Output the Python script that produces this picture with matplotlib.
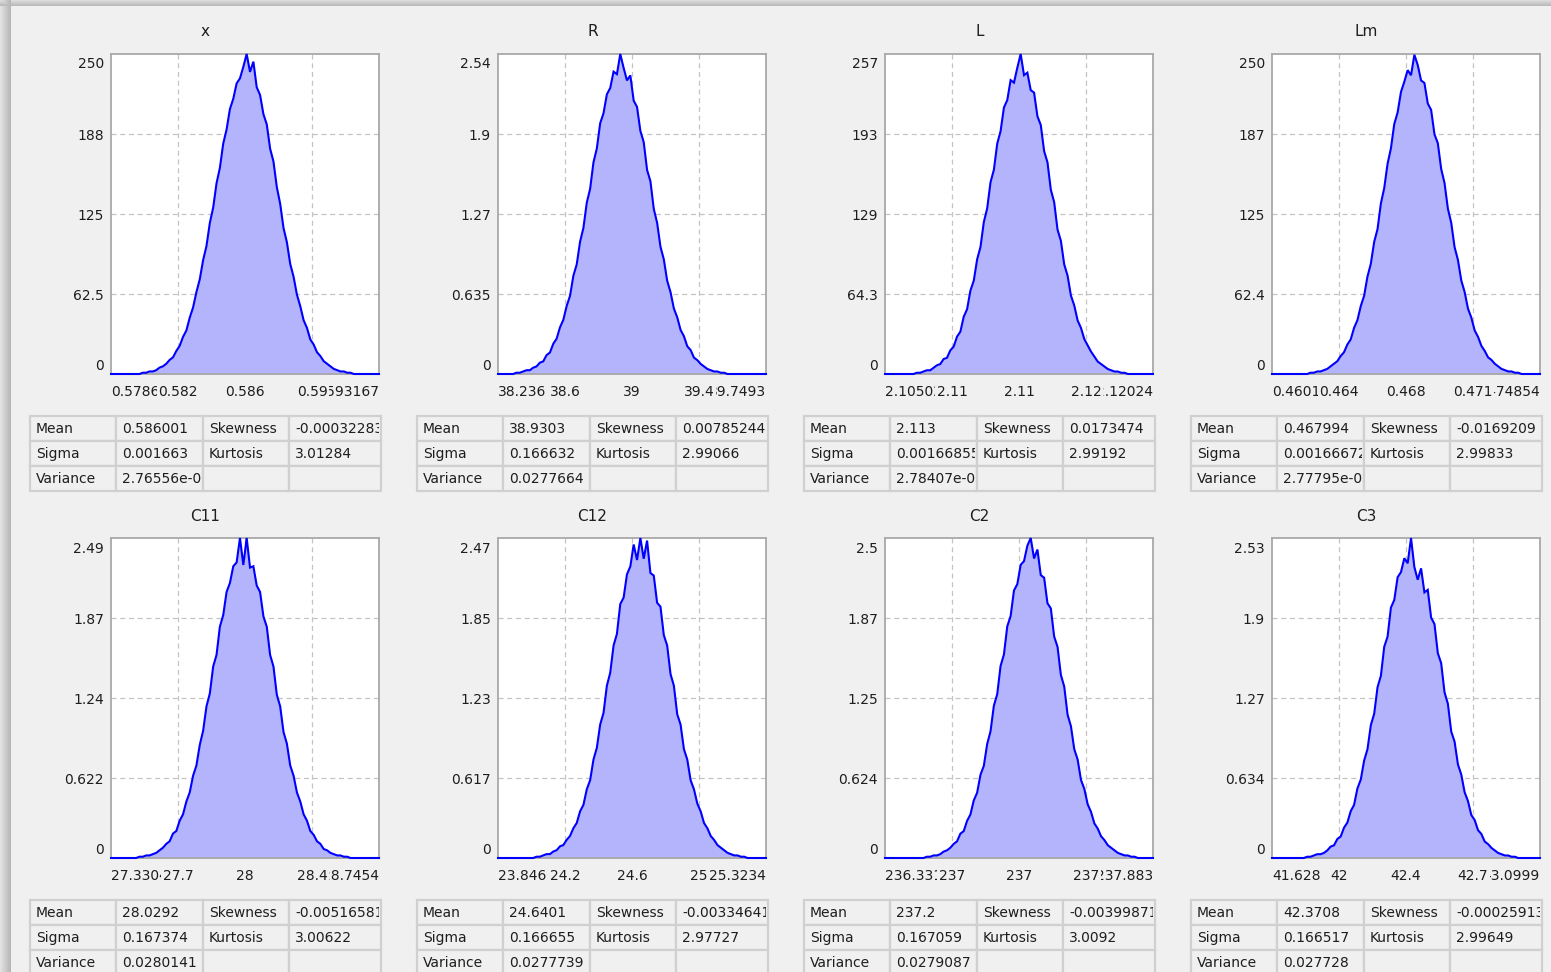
import numpy as np
import matplotlib
matplotlib.use('Agg')
import matplotlib.pyplot as plt
from matplotlib.patches import Rectangle
from matplotlib.transforms import Bbox

plt.rcParams['font.family'] = ['DejaVu Sans']

# panel names and axis ranges
names = ['x', 'R', 'L', 'Lm', 'C11', 'C12', 'C2', 'C3']
x_lo = [0.57863, 38.236, 2.10515, 0.46015, 27.3304, 23.846, 236.331, 41.628]
x_hi = [0.593167, 39.7493, 2.12024, 0.474854, 28.7454, 25.3234, 237.883, 43.0999]
y_top = [250, 2.54, 257, 249.6, 2.49, 2.47, 2.5, 2.53]

# tick labels as shown
x_min_lab = ['0.57863', '38.236', '2.10502', '0.46015', '27.3304', '23.846', '236.331', '41.628']
x_mid_lab = [['0.582', '0.586', '0.59'], ['38.6', '39', '39.4'], ['2.11', '2.11', '2.12'],
             ['0.464', '0.468', '0.471'], ['27.7', '28', '28.4'], ['24.2', '24.6', '25'],
             ['237', '237', '237'], ['42', '42.4', '42.7']]
x_max_lab = ['0.593167', '39.7493', '2.12024', '0.474854', '28.7454', '25.3234', '237.883', '43.0999']
y_labs = [['0', '62.5', '125', '188', '250'], ['0', '0.635', '1.27', '1.9', '2.54'],
          ['0', '64.3', '129', '193', '257'], ['0', '62.4', '125', '187', '250'],
          ['0', '0.622', '1.24', '1.87', '2.49'], ['0', '0.617', '1.23', '1.85', '2.47'],
          ['0', '0.624', '1.25', '1.87', '2.5'], ['0', '0.634', '1.27', '1.9', '2.53']]

# histogram heights (80 bins over each axis range), first non-empty bin index
n_bins = 80
first_bin = [9, 5, 9, 11, 8, 11, 12, 10]
h_x = [1, 1, 2, 2, 3, 5, 6, 8, 11, 13, 18, 22, 29, 34, 44, 52, 64, 74, 89, 100, 118, 130, 149, 161,
       180, 191, 207, 215, 227, 231, 240, 250, 236, 244, 224, 218, 203, 195, 176, 166, 146, 133,
       114, 103, 86, 76, 62, 53, 42, 36, 27, 23, 17, 14, 10, 8, 6, 4, 3, 2, 2, 1, 1]
h_R = [0.01, 0.01, 0.02, 0.03, 0.03, 0.05, 0.06, 0.09, 0.10, 0.15, 0.17, 0.24, 0.28, 0.37, 0.43,
       0.54, 0.62, 0.78, 0.87, 1.05, 1.16, 1.36, 1.47, 1.68, 1.79, 1.99, 2.07, 2.22, 2.27, 2.40,
       2.38, 2.54, 2.43, 2.33, 2.37, 2.17, 2.12, 1.93, 1.84, 1.62, 1.53, 1.31, 1.20, 1.01, 0.91,
       0.74, 0.65, 0.52, 0.45, 0.35, 0.30, 0.22, 0.19, 0.13, 0.11, 0.08, 0.06, 0.04, 0.03, 0.02,
       0.02, 0.01, 0.01]
h_L = [1, 1, 2, 3, 3, 5, 7, 8, 12, 13, 19, 22, 30, 34, 46, 52, 67, 75, 92, 102, 122, 133, 154, 164,
       185, 195, 214, 220, 236, 234, 246, 257, 240, 242, 228, 226, 207, 200, 179, 170, 148, 138,
       116, 107, 88, 79, 63, 55, 43, 37, 28, 23, 18, 14, 10, 8, 6, 4, 3, 2, 2, 1, 1]
h_Lm = [1, 1, 2, 2, 3, 4, 6, 8, 10, 14, 17, 23, 27, 36, 42, 53, 61, 76, 86, 103, 113, 133, 145, 164,
        176, 195, 204, 220, 228, 237, 233, 249, 241, 229, 227, 211, 206, 187, 180, 160, 149, 129,
        118, 99, 89, 73, 64, 51, 44, 34, 29, 22, 18, 13, 11, 8, 6, 4, 3, 2, 2, 1, 1]
h_C11 = [0.01, 0.01, 0.02, 0.02, 0.03, 0.04, 0.06, 0.08, 0.11, 0.13, 0.19, 0.21, 0.29, 0.34, 0.44,
         0.51, 0.64, 0.72, 0.88, 0.99, 1.18, 1.28, 1.49, 1.58, 1.80, 1.89, 2.07, 2.14, 2.27, 2.30,
         2.49, 2.28, 2.49, 2.26, 2.27, 2.12, 2.07, 1.88, 1.80, 1.58, 1.49, 1.27, 1.18, 0.98, 0.89,
         0.72, 0.64, 0.51, 0.44, 0.34, 0.29, 0.21, 0.18, 0.13, 0.11, 0.07, 0.06, 0.04, 0.03, 0.02,
         0.02, 0.01, 0.01]
h_C12 = [0.01, 0.01, 0.02, 0.03, 0.03, 0.05, 0.06, 0.09, 0.10, 0.14, 0.17, 0.23, 0.27, 0.36, 0.41,
         0.53, 0.60, 0.76, 0.85, 1.03, 1.12, 1.33, 1.43, 1.64, 1.73, 1.96, 2.01, 2.19, 2.25, 2.42,
         2.30, 2.47, 2.31, 2.45, 2.20, 2.18, 1.97, 1.94, 1.72, 1.64, 1.42, 1.33, 1.11, 1.03, 0.84,
         0.76, 0.60, 0.53, 0.42, 0.36, 0.27, 0.23, 0.17, 0.14, 0.10, 0.08, 0.06, 0.04, 0.03, 0.02,
         0.02, 0.01, 0.01]
h_C2 = [0.01, 0.01, 0.02, 0.02, 0.03, 0.05, 0.06, 0.08, 0.11, 0.13, 0.19, 0.21, 0.29, 0.34, 0.45,
        0.51, 0.65, 0.72, 0.89, 0.99, 1.19, 1.28, 1.50, 1.59, 1.81, 1.89, 2.09, 2.14, 2.29, 2.32,
        2.44, 2.50, 2.34, 2.41, 2.21, 2.19, 1.99, 1.95, 1.73, 1.65, 1.43, 1.34, 1.12, 1.03, 0.85,
        0.77, 0.61, 0.54, 0.42, 0.36, 0.27, 0.23, 0.17, 0.14, 0.10, 0.08, 0.06, 0.04, 0.03, 0.02,
        0.02, 0.01, 0.01]
h_C3 = [0.01, 0.01, 0.02, 0.03, 0.03, 0.04, 0.06, 0.09, 0.10, 0.15, 0.17, 0.24, 0.28, 0.37, 0.42,
        0.55, 0.62, 0.77, 0.86, 1.05, 1.14, 1.35, 1.44, 1.67, 1.75, 1.98, 2.04, 2.22, 2.26, 2.37,
        2.33, 2.53, 2.30, 2.20, 2.29, 2.10, 2.12, 1.90, 1.85, 1.62, 1.54, 1.31, 1.22, 1.00, 0.92,
        0.74, 0.66, 0.52, 0.45, 0.34, 0.30, 0.22, 0.19, 0.13, 0.11, 0.08, 0.06, 0.04, 0.03, 0.02,
        0.02, 0.01, 0.01]
heights = [h_x, h_R, h_L, h_Lm, h_C11, h_C12, h_C2, h_C3]

# statistics tables
means = ['0.586001', '38.9303', '2.113', '0.467994', '28.0292', '24.6401', '237.2', '42.3708']
sigmas = ['0.001663', '0.166632', '0.00166855', '0.00166672', '0.167374', '0.166655', '0.167059', '0.166517']
variances = ['2.76556e-06', '0.0277664', '2.78407e-06', '2.77795e-06', '0.0280141', '0.0277739', '0.0279087', '0.027728']
skews = ['-0.00032283', '0.00785244', '0.0173474', '-0.0169209', '-0.00516581', '-0.00334641', '-0.00399871', '-0.00025913']
kurts = ['3.01284', '2.99066', '2.99192', '2.99833', '3.00622', '2.97727', '3.0092', '2.99649']

W, H = 1551, 972
win = '#f0f0f0'
txt = '#1e1e1e'
fill_c = '#b4b4fc'
line_c = '#0000ff'

fig = plt.figure(figsize=(W / 100, H / 100), dpi=100)
bg = fig.add_axes([0, 0, 1, 1])
bg.set_xlim(0, W)
bg.set_ylim(H, 0)
bg.axis('off')

# window with a soft shadow on the left / top edge
img = np.full((H, W), 240.0)
xs = np.arange(W)
ys = np.arange(H)
sx = np.where(xs < 11, 182 + 45 * (10 - xs) / 10, 255)
sy = np.where(ys < 7, 186 + 40 * (6 - ys) / 6, 255)
img = np.minimum(img, sx[None, :])
img = np.minimum(img, sy[:, None])
bg.imshow(np.dstack([img] * 3).astype(np.uint8), extent=(0, W, H, 0), aspect='auto',
          interpolation='nearest', zorder=0)

cols_x = [111, 498, 885, 1272]
rows_y = [54, 538]
aw, ah = 268, 320
col_off = [0, 86, 173, 259, 351]
row_h = 25

for i, name in enumerate(names):
    r, c = divmod(i, 4)
    x0, y0 = cols_x[c], rows_y[r]
    ax = fig.add_axes([x0 / W, 1 - (y0 + ah) / H, aw / W, ah / H])
    ax.set_facecolor('white')

    edges = np.linspace(x_lo[i], x_hi[i], n_bins + 1)
    centers = (edges[:-1] + edges[1:]) / 2
    counts = np.zeros(n_bins)
    counts[first_bin[i]:first_bin[i] + len(heights[i])] = heights[i]
    px = np.concatenate([[x_lo[i]], centers, [x_hi[i]]])
    py = np.concatenate([[0], counts, [0]])
    ax.fill_between(px, py, color=fill_c, lw=0, zorder=2)
    ax.plot(px, py, color=line_c, lw=1.5, zorder=3, clip_on=False, solid_joinstyle='miter')

    ax.set_xlim(x_lo[i], x_hi[i])
    ax.set_ylim(0, y_top[i])
    ax.set_xticks(np.linspace(x_lo[i], x_hi[i], 5)[1:4])
    ax.set_yticks(np.linspace(0, y_top[i], 5)[1:4])
    ax.tick_params(length=0, labelbottom=False, labelleft=False)
    ax.grid(True, color='#c4c4c4', ls=(0, (4, 3)), lw=0.9)
    ax.set_axisbelow(True)
    for sp in ax.spines.values():
        sp.set_color('#a8a8a8')
        sp.set_linewidth(1.3)

    # x tick labels: end labels first, inner labels painted over them
    xt = ax.get_xaxis_transform()
    ly = -18 / ah
    ax.text(x_lo[i], ly, x_min_lab[i], transform=xt, ha='left', va='center',
            fontsize=10, color=txt, clip_on=False, zorder=5)
    ax.text(x_hi[i], ly, x_max_lab[i], transform=xt, ha='right', va='center',
            fontsize=10, color=txt, clip_on=False, zorder=5)
    for k, lab in enumerate(x_mid_lab[i]):
        xv = x_lo[i] + (k + 1) * (x_hi[i] - x_lo[i]) / 4
        ax.text(xv, ly, lab, transform=xt, ha='center', va='center', fontsize=10, color=txt,
                clip_on=False, zorder=6,
                bbox=dict(boxstyle='square,pad=0.12', fc=win, ec='none'))

    # y tick labels
    for k, lab in enumerate(y_labs[i]):
        fy = k / 4
        if k == 4:
            fy -= 10.5 / ah
        elif k == 0:
            fy += 8.5 / ah
        else:
            fy -= 1.5 / ah
        ax.text(-7 / aw, fy, lab, transform=ax.transAxes, ha='right', va='center',
                fontsize=10, color=txt, clip_on=False)

    # title centred over the whole panel block
    left = x0 - 81
    bg.text(left + 351 / 2, y0 - 22, name, ha='center', va='center', fontsize=11, color=txt)

    # stats table
    top = y0 + 362
    cells = [['Mean', means[i], 'Skewness', skews[i]],
             ['Sigma', sigmas[i], 'Kurtosis', kurts[i]],
             ['Variance', variances[i], '', '']]
    for rr, row in enumerate(cells):
        for cc, val in enumerate(row):
            cx = left + col_off[cc]
            cw = col_off[cc + 1] - col_off[cc]
            cy = top + rr * row_h
            bg.add_patch(Rectangle((cx, cy), cw, row_h, fc=win, ec='#d0d0d0', lw=1.6, zorder=2))
            if val:
                t = bg.text(cx + 6, cy + row_h / 2 + 0.5, val, ha='left', va='center',
                            fontsize=10, color=txt, zorder=3)
                # clip the text to its cell (display pixels, origin bottom-left)
                t.set_clip_box(Bbox.from_extents(cx + 1, H - (cy + row_h), cx + cw - 2, H - cy))
                t.set_clip_on(True)

fig.savefig('out.png', dpi=100, facecolor=win)
